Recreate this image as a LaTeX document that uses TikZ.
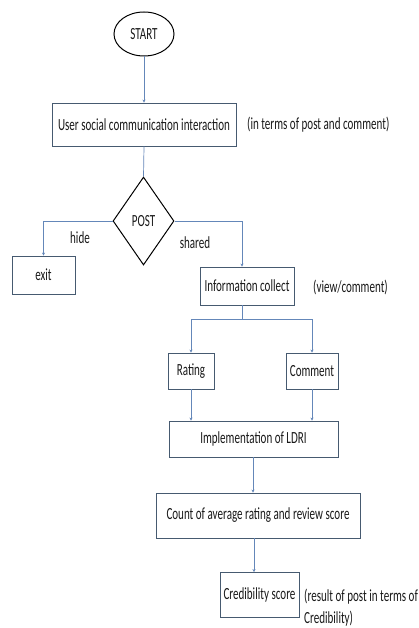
\documentclass[tikz,border=0pt]{standalone}
\usepackage{fontspec}
\setmainfont{Carlito}[FakeStretch=0.65]
\usetikzlibrary{shapes.geometric,arrows.meta,calc}
\definecolor{boxline}{RGB}{70,90,112}
\definecolor{flow}{RGB}{100,135,185}
\definecolor{txt}{RGB}{25,25,25}
\begin{document}
\begin{tikzpicture}[x=1pt,y=-1pt,
  every node/.style={font=\fontsize{17}{19}\selectfont,text=txt},
  procbox/.style={draw=boxline,line width=0.9pt,rectangle,inner sep=0pt},
  startshape/.style={draw=black,line width=1pt,ellipse,inner sep=0pt,minimum width=60pt,minimum height=44pt},
  decision/.style={draw=black,line width=1pt,diamond,inner sep=0pt,minimum width=61pt,minimum height=88pt},
  note/.style={anchor=west,inner sep=0pt},
  flowline/.style={draw=flow,line width=0.7pt},
  flowarrow/.style={flowline,-{Stealth[length=3pt,width=3pt]}}]
\useasboundingbox (0,0) rectangle (419,628);
\fill[white] (0,0) rectangle (419,628);

\node[startshape] (start) at (144,34) {START};
\node[procbox,minimum width=184pt,minimum height=43pt] (user) at (144,124.5) {User social communication interaction};
\node[note] (usernote) at (247,125) {(in terms of post and comment)};
\node[decision] (post) at (143.5,221) {\raisebox{-5pt}{POST}};
\node[procbox,minimum width=63pt,minimum height=38pt] (exit) at (43.5,275) {exit\hspace{12pt}};
\node[inner sep=0pt] (hide) at (80,238) {hide};
\node[procbox,minimum width=94pt,minimum height=38pt] (info) at (247,286) {Information collect};
\node[inner sep=0pt] (shared) at (195,243) {shared};
\node[note] (viewnote) at (313,287) {(view/comment)};
\node[procbox,minimum width=46pt,minimum height=36pt] (rating) at (191,371) {Rating};
\node[procbox,minimum width=52pt,minimum height=36pt] (comment) at (312,371) {Comment};
\node[procbox,minimum width=169pt,minimum height=36pt] (impl) at (253.5,439) {Implementation of LDRI};
\node[procbox,minimum width=79pt,minimum height=45pt] (cred) at (259.5,595) {Credibility score};
\node[procbox,minimum width=204pt,minimum height=45pt] (count) at (258,515.5) {Count of average rating and review score};
\node[anchor=north west,inner sep=0pt,align=left,font=\fontsize{17}{22}\selectfont] (crednote) at (304,589) {(result of post in terms of\\Credibility)};

\draw[flowarrow] (start.south) -- (user.north);
\draw[flowline] (user.south) -- (post.north);
\draw[flowarrow] (post.west) -| (exit.north);
\draw[flowarrow] (post.east) -| ([xshift=-5pt]info.north);
\coordinate (split) at ([xshift=-5pt]info.south |- 0,319);
\draw[flowline] ([xshift=-5pt]info.south) -- (split);
\draw[flowarrow] (split) -| (rating.north);
\draw[flowarrow] (split) -| (comment.north);
\draw[flowarrow] (rating.south) -- (rating.south |- impl.north);
\draw[flowarrow] (comment.south) -- (comment.south |- impl.north);
\draw[flowarrow] ([xshift=-0.5pt]impl.south) -- ([xshift=-0.5pt]impl.south |- count.north);
\draw[flowarrow] ([xshift=-4pt]count.south) -- ([xshift=-4pt]count.south |- cred.north);
\end{tikzpicture}
\end{document}
